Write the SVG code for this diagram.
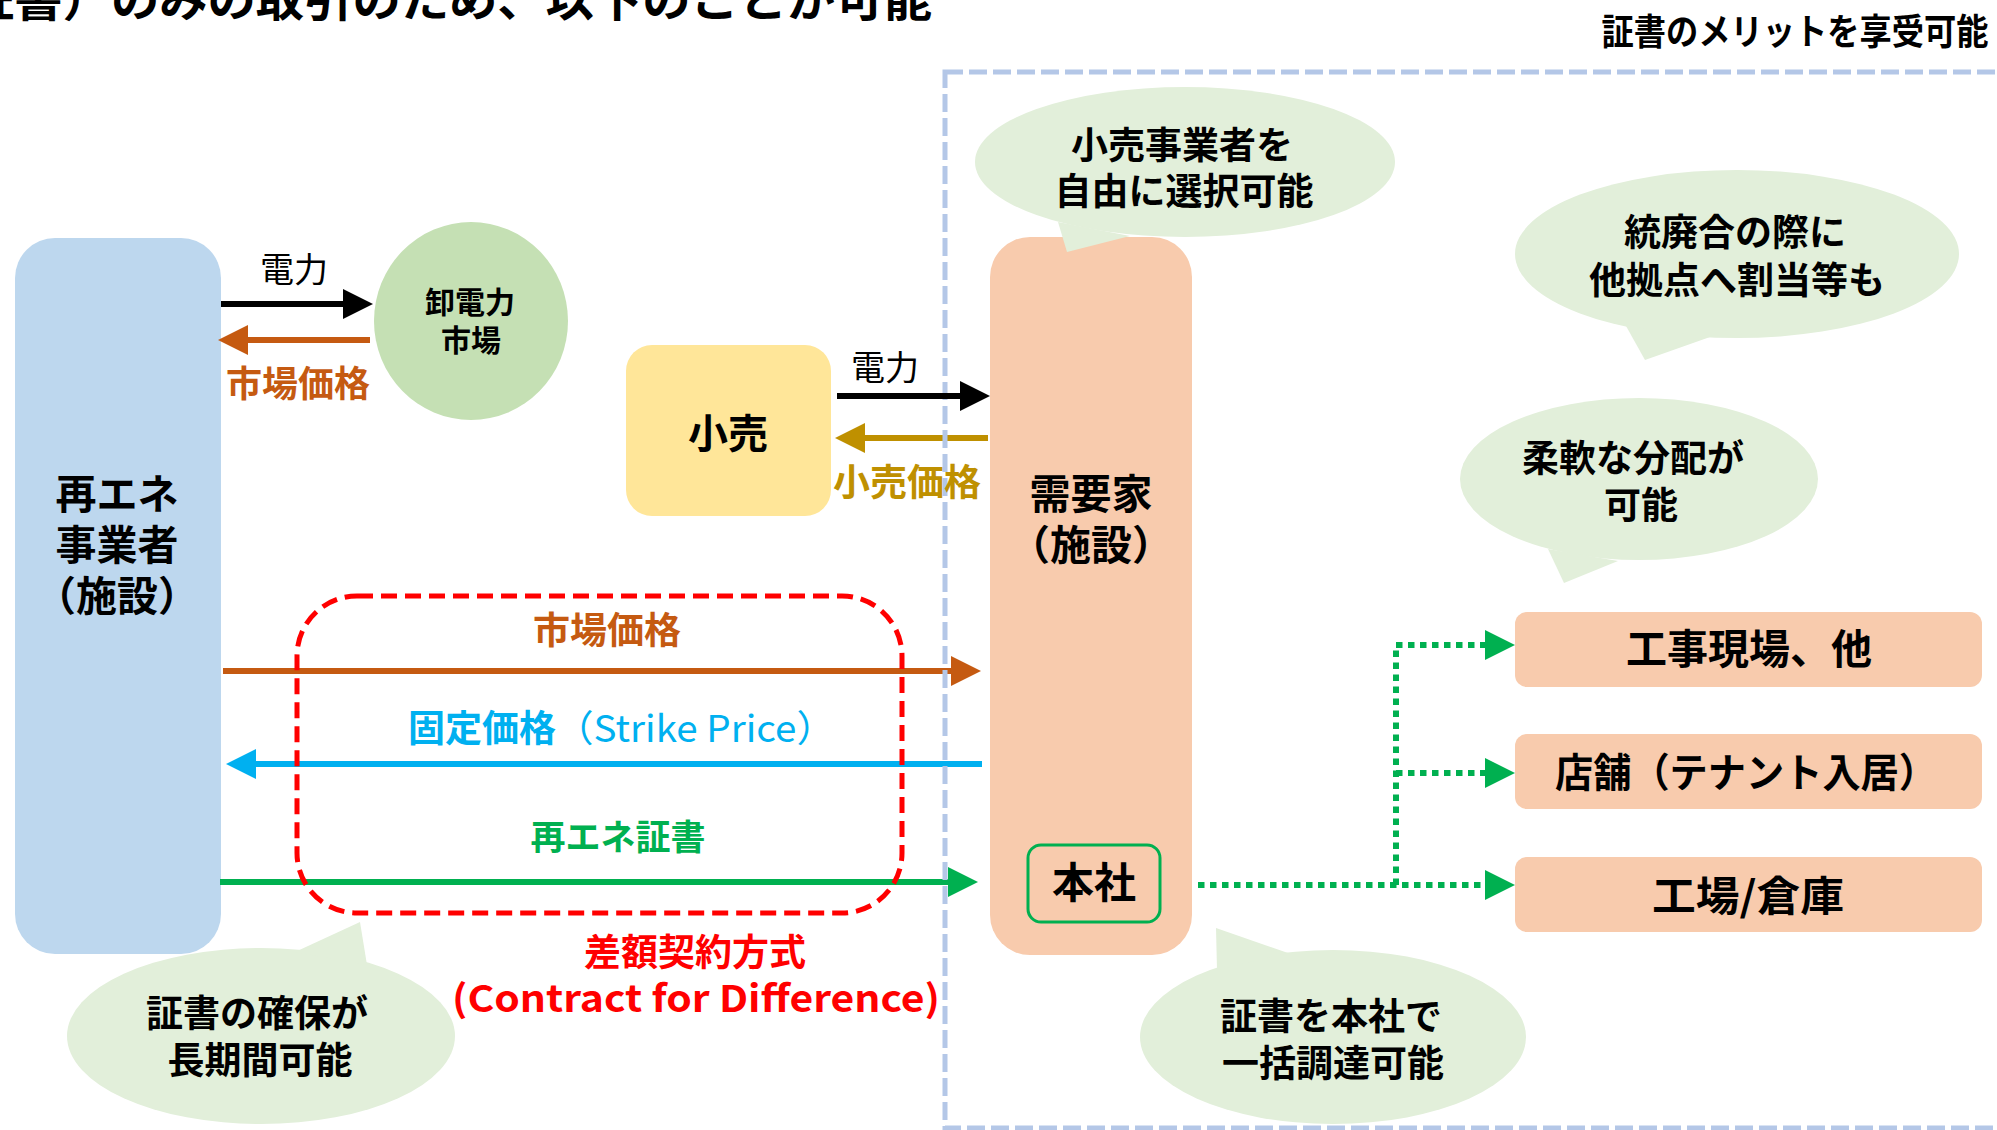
<svg xmlns="http://www.w3.org/2000/svg" width="1997" height="1130" viewBox="0 0 1997 1130">
<style>
text{font-family:"Noto Sans CJK JP","Noto Sans",sans-serif;font-weight:700;text-anchor:middle;fill:#000}
.reg{font-weight:400}
.bubble{fill:#E2EFDA}
.peach{fill:#F8CBAD}
.conn{fill:none;stroke-width:6}
.dot{fill:none;stroke:#00B050;stroke-width:6;stroke-dasharray:6.5 5.5}
</style>
<defs>
<marker id="mBlack" viewBox="0 0 30 30" markerUnits="userSpaceOnUse" markerWidth="30" markerHeight="30" refX="10" refY="15" orient="auto"><path d="M0,0 L30,15 L0,30 z" fill="#000"/></marker>
<marker id="mOrange" viewBox="0 0 30 30" markerUnits="userSpaceOnUse" markerWidth="30" markerHeight="30" refX="10" refY="15" orient="auto"><path d="M0,0 L30,15 L0,30 z" fill="#C55A11"/></marker>
<marker id="mGold" viewBox="0 0 30 30" markerUnits="userSpaceOnUse" markerWidth="30" markerHeight="30" refX="10" refY="15" orient="auto"><path d="M0,0 L30,15 L0,30 z" fill="#BF9000"/></marker>
<marker id="mCyan" viewBox="0 0 30 30" markerUnits="userSpaceOnUse" markerWidth="30" markerHeight="30" refX="10" refY="15" orient="auto"><path d="M0,0 L30,15 L0,30 z" fill="#00B0F0"/></marker>
<marker id="mGreen" viewBox="0 0 30 30" markerUnits="userSpaceOnUse" markerWidth="30" markerHeight="30" refX="10" refY="15" orient="auto"><path d="M0,0 L30,15 L0,30 z" fill="#00B050"/></marker>
</defs>
<rect width="1997" height="1130" fill="#fff"/>

<g id="title">
<text x="-34" y="16" font-size="46" style="text-anchor:start" textLength="966" lengthAdjust="spacingAndGlyphs">証書）のみの取引のため、以下のことが可能</text>
<text x="1795" y="45" font-size="36" textLength="387" lengthAdjust="spacingAndGlyphs">証書のメリットを享受可能</text>
</g>

<g id="renewable-producer">
<rect x="15" y="238" width="206" height="716" rx="40" fill="#BDD7EE"/>
<text x="117" y="509" font-size="41">再エネ</text>
<text x="117" y="560" font-size="41">事業者</text>
<text x="117" y="611" font-size="41">（施設）</text>
</g>

<g id="wholesale-market">
<ellipse cx="471" cy="321" rx="97" ry="99" fill="#C5E0B4"/>
<text x="470" y="313" font-size="30">卸電力</text>
<text x="471" y="351" font-size="30">市場</text>
</g>

<g id="retail">
<rect x="626" y="345" width="205" height="171" rx="26" fill="#FFE699"/>
<text x="728" y="448" font-size="40">小売</text>
</g>

<g id="consumer">
<rect class="peach" x="990" y="237" width="202" height="718" rx="40"/>
<text x="1091" y="509" font-size="41">需要家</text>
<text x="1091" y="560" font-size="41">（施設）</text>
</g>

<g id="headquarters">
<rect class="peach" x="1028" y="845" width="132" height="77" rx="13" stroke="#00B050" stroke-width="3"/>
<text x="1094" y="898" font-size="42">本社</text>
</g>

<g id="site-construction">
<rect class="peach" x="1515" y="612" width="467" height="75" rx="12"/>
<text x="1749" y="664" font-size="41">工事現場、他</text>
</g>
<g id="site-store">
<rect class="peach" x="1515" y="734" width="467" height="75" rx="12"/>
<text x="1746" y="787" font-size="40" textLength="382" lengthAdjust="spacingAndGlyphs">店舗（テナント入居）</text>
</g>
<g id="site-factory">
<rect class="peach" x="1515" y="857" width="467" height="75" rx="12"/>
<text x="1748" y="911" font-size="41" textLength="192" lengthAdjust="spacingAndGlyphs">工場/倉庫</text>
</g>

<g id="connectors">
<path class="conn" d="M370,340 H238" stroke="#C55A11" marker-end="url(#mOrange)"/>
<path class="conn" d="M988,438 H855" stroke="#BF9000" marker-end="url(#mGold)"/>
<path class="conn" d="M223,671 H961" stroke="#C55A11" marker-end="url(#mOrange)"/>
<path class="conn" d="M982,764 H246" stroke="#00B0F0" marker-end="url(#mCyan)"/>
<path class="conn" d="M220,882 H958" stroke="#00B050" marker-end="url(#mGreen)"/>
<path class="dot" d="M1198,885 H1495" marker-end="url(#mGreen)"/>
<path class="dot" d="M1396,885 V645 H1495" marker-end="url(#mGreen)"/>
<path class="dot" d="M1396,773 H1495" marker-end="url(#mGreen)"/>
</g>

<g id="merit-scope">
<rect x="945" y="72" width="1100" height="1056" fill="none" stroke="#B4C7E7" stroke-width="5" stroke-dasharray="18 6"/>
</g>

<g id="connectors-power">
<path class="conn" d="M221,304 H353" stroke="#000" marker-end="url(#mBlack)"/>
<path class="conn" d="M837,396 H970" stroke="#000" marker-end="url(#mBlack)"/>
</g>

<g id="connector-labels">
<text class="reg" x="294" y="282" font-size="34">電力</text>
<text x="298" y="397" font-size="36" style="fill:#C55A11">市場価格</text>
<text class="reg" x="885" y="380" font-size="34">電力</text>
<text x="907" y="496" font-size="37" style="fill:#BF9000">小売価格</text>
<text x="607" y="644" font-size="37" style="fill:#C55A11">市場価格</text>
<text x="408" y="742" font-size="37" style="fill:#00B0F0;text-anchor:start">固定価格</text>
<text class="reg" x="555" y="742" font-size="37" style="fill:#00B0F0;text-anchor:start" textLength="280" lengthAdjust="spacingAndGlyphs">（Strike Price）</text>
<text x="618" y="850" font-size="35" style="fill:#00B050">再エネ証書</text>
</g>

<g id="cfd">
<rect x="297" y="596" width="605" height="317" rx="60" fill="none" stroke="#FF0000" stroke-width="5" stroke-dasharray="16 8"/>
<text x="695" y="966" font-size="37" style="fill:#FF0000">差額契約方式</text>
<text x="696" y="1012" font-size="37" style="fill:#FF0000" textLength="488" lengthAdjust="spacingAndGlyphs">(Contract for Difference)</text>
</g>

<g id="bubble-retail-choice">
<ellipse class="bubble" cx="1185" cy="162" rx="210" ry="75"/>
<polygon class="bubble" points="1058,222 1067,252 1130,236"/>
<text x="1182" y="159" font-size="37">小売事業者を</text>
<text x="1184" y="205" font-size="37">自由に選択可能</text>
</g>

<g id="bubble-consolidation">
<ellipse class="bubble" cx="1737" cy="254" rx="222" ry="84"/>
<polygon class="bubble" points="1626,326 1645,360 1710,337"/>
<text x="1735" y="246" font-size="37">統廃合の際に</text>
<text x="1737" y="294" font-size="37">他拠点へ割当等も</text>
</g>

<g id="bubble-flexible">
<ellipse class="bubble" cx="1639" cy="479" rx="179" ry="81"/>
<polygon class="bubble" points="1548,549 1564,583 1618,561"/>
<text x="1633" y="472" font-size="37">柔軟な分配が</text>
<text x="1641" y="519" font-size="37">可能</text>
</g>

<g id="bubble-long-term">
<ellipse class="bubble" cx="261" cy="1036" rx="194" ry="88"/>
<polygon class="bubble" points="295,952 360,922 367,965"/>
<text x="257" y="1027" font-size="37">証書の確保が</text>
<text x="260" y="1074" font-size="37">長期間可能</text>
</g>

<g id="bubble-bulk">
<ellipse class="bubble" cx="1333" cy="1037" rx="193" ry="87"/>
<polygon class="bubble" points="1216,928 1217,970 1288,953"/>
<text x="1331" y="1030" font-size="37">証書を本社で</text>
<text x="1333" y="1077" font-size="37">一括調達可能</text>
</g>
</svg>
